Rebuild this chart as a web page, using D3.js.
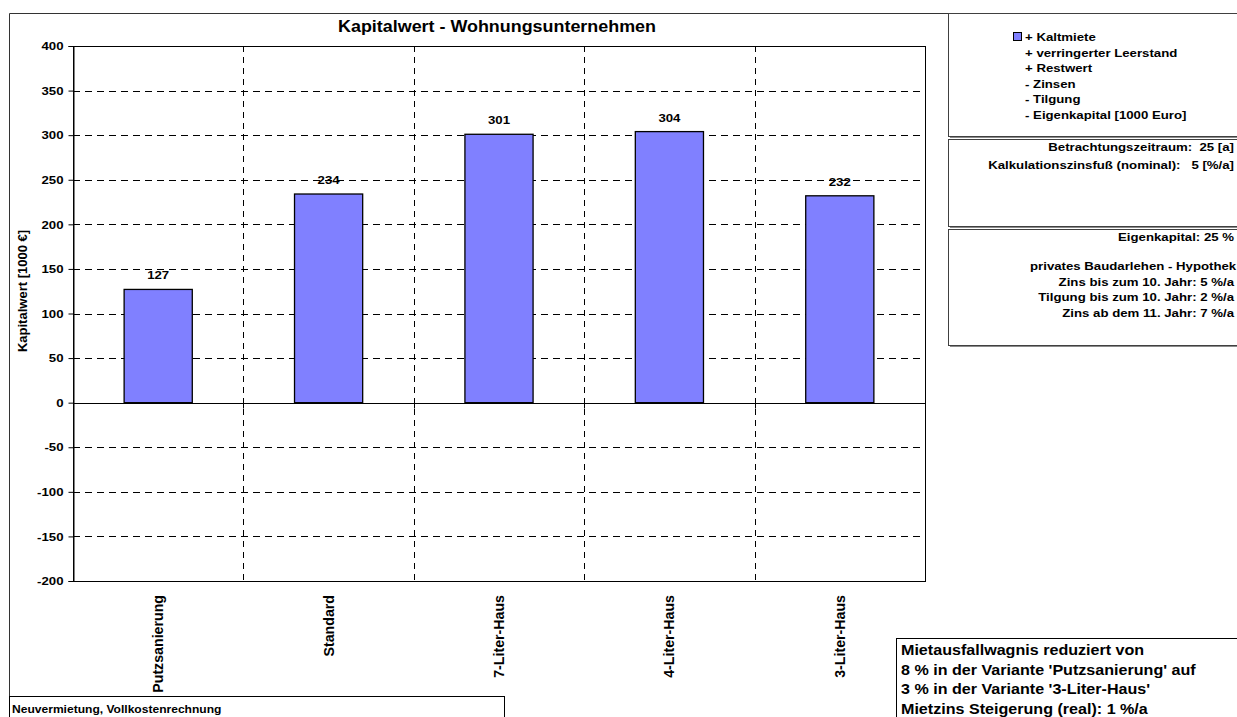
<!DOCTYPE html>
<html>
<head>
<meta charset="utf-8">
<script src="https://cdn.jsdelivr.net/npm/d3@7"></script>
<style>
  html, body { margin: 0; padding: 0; background: #fff; }
  svg { display: block; }
  text { font-family: "Liberation Sans", Arial, sans-serif; font-weight: bold; fill: #000; white-space: pre; }
</style>
</head>
<body>
<svg id="chart" width="1237" height="717"></svg>
<script>
// Kapitalwert je Variante [1000 €]
const categories = ["Putzsanierung", "Standard", "7-Liter-Haus", "4-Liter-Haus", "3-Liter-Haus"];
const kapitalwert = [127, 234, 301, 304, 232];
const yTicks = [-200, -150, -100, -50, 0, 50, 100, 150, 200, 250, 300, 350, 400];

const chartTitle = "Kapitalwert - Wohnungsunternehmen";
const yAxisTitle = "Kapitalwert [1000 €]";
const legendLines = ["+ Kaltmiete", "+ verringerter Leerstand", "+ Restwert", "- Zinsen", "- Tilgung", "- Eigenkapital [1000 Euro]"];
const periodLines = ["Betrachtungszeitraum:  25 [a]", "Kalkulationszinsfuß (nominal):   5 [%/a]"];
const equityLine = "Eigenkapital: 25 %";
const loanTitle = "privates Baudarlehen - Hypothek";
const loanLines = ["Zins bis zum 10. Jahr: 5 %/a", "Tilgung bis zum 10. Jahr: 2 %/a", "Zins ab dem 11. Jahr: 7 %/a"];
const vacancyLines = ["Mietausfallwagnis reduziert von", "8 % in der Variante 'Putzsanierung' auf", "3 % in der Variante '3-Liter-Haus'", "Mietzins Steigerung (real): 1 %/a"];
const footerText = "Neuvermietung, Vollkostenrechnung";

const svg = d3.select("#chart");
const plot = { left: 73, right: 925, top: 46, bottom: 581 };
const SX = 1.15; // horizontal widening of the lettering

const x = d3.scaleBand().domain(categories).range([plot.left, plot.right]).padding(0);
const y = d3.scaleLinear().domain([-200, 400]).range([plot.bottom, plot.top]);

function label(parent, px, py, str, size, anchor = "start", rot = 0, sx = SX) {
  return parent.append("text")
    .attr("xml:space", "preserve")
    .attr("transform", `translate(${px},${py}) rotate(${rot}) scale(${sx},1)`)
    .attr("text-anchor", anchor)
    .style("font-size", size + "px")
    .text(str);
}

// outer chart frame
svg.append("path")
  .attr("d", "M9.5,700 V13.5 H1237")
  .attr("fill", "none").attr("stroke", "#333").attr("stroke-width", 1);

// title
label(svg, 497, 32, chartTitle, 16, "middle", 0, 1.12);

// horizontal grid lines
const gridY = yTicks.filter(v => v !== -200 && v !== 400 && v !== 0);
svg.append("g").selectAll("line").data(gridY).join("line")
  .attr("x1", plot.left).attr("x2", plot.right)
  .attr("y1", d => Math.round(y(d)) + 0.5).attr("y2", d => Math.round(y(d)) + 0.5)
  .attr("stroke", "#000").attr("stroke-width", 1).attr("stroke-dasharray", "7,5");

// vertical grid lines between categories
const bounds = categories.slice(1).map(c => x(c));
svg.append("g").selectAll("line").data(bounds).join("line")
  .attr("x1", d => Math.round(d) + 0.5).attr("x2", d => Math.round(d) + 0.5)
  .attr("y1", plot.top).attr("y2", plot.bottom)
  .attr("stroke", "#000").attr("stroke-width", 1).attr("stroke-dasharray", "6,5");

// plot border
svg.append("rect")
  .attr("x", plot.left + 0.5).attr("y", plot.top + 0.5)
  .attr("width", plot.right - plot.left).attr("height", plot.bottom - plot.top)
  .attr("fill", "none").attr("stroke", "#000").attr("stroke-width", 1);

// bars
const barW = x.bandwidth() * 0.4;
svg.append("g").selectAll("rect").data(kapitalwert).join("rect")
  .attr("x", (d, i) => x(categories[i]) + (x.bandwidth() - barW) / 2)
  .attr("y", d => y(Math.max(0, d)))
  .attr("width", barW)
  .attr("height", d => Math.abs(y(d) - y(0)))
  .attr("fill", "#8080FF").attr("stroke", "#000").attr("stroke-width", 1.3);

// value labels
const vl = svg.append("g");
kapitalwert.forEach((d, i) => {
  label(vl, x(categories[i]) + x.bandwidth() / 2, y(d) - 10, String(d), 11.5, "middle");
});

// zero line with category ticks
const y0 = Math.round(y(0)) + 0.5;
svg.append("line").attr("x1", plot.left).attr("x2", plot.right)
  .attr("y1", y0).attr("y2", y0).attr("stroke", "#000").attr("stroke-width", 1);
svg.append("g").selectAll("line").data(bounds).join("line")
  .attr("x1", d => Math.round(d) + 0.5).attr("x2", d => Math.round(d) + 0.5)
  .attr("y1", y0).attr("y2", y0 + 5).attr("stroke", "#000");

// y axis
const yAxis = d3.axisLeft(y).tickValues(yTicks).tickSize(5).tickPadding(5).tickFormat(d => String(d));
const ya = svg.append("g").attr("transform", `translate(${plot.left + 0.5},0)`).call(yAxis);
ya.select(".domain").attr("stroke", "#000");
ya.selectAll(".tick line").attr("stroke", "#000");
ya.selectAll(".tick text")
  .style("font-size", "11.5px")
  .attr("font-family", null)
  .attr("x", null).attr("dy", null)
  .attr("transform", `translate(-10,0) scale(${SX},1)`)
  .attr("dominant-baseline", "central");

// y axis title
label(svg, 27, 291, yAxisTitle, 13, "middle", -90, 1);

// category labels
const cl = svg.append("g");
categories.forEach(c => {
  label(cl, x(c) + x.bandwidth() / 2 + 5, 595, c, 14.2, "end", -90, 1);
});

// framed text boxes with a shadow
function box(bx, by, bw, bh) {
  svg.append("rect").attr("x", bx + 2).attr("y", by + 2).attr("width", bw).attr("height", bh)
    .attr("fill", "#8a8a8a");
  svg.append("rect").attr("x", bx + 0.5).attr("y", by + 0.5).attr("width", bw).attr("height", bh)
    .attr("fill", "#fff").attr("stroke", "#404040").attr("stroke-width", 1);
}

// legend
box(948, 13, 320, 123);
svg.append("rect").attr("x", 1013.5).attr("y", 32.5).attr("width", 8).attr("height", 8)
  .attr("fill", "#8080FF").attr("stroke", "#000").attr("stroke-width", 1);
legendLines.forEach((t, i) => label(svg, 1025, 41 + i * 15.6, t, 11.5, "start"));

// calculation period box
box(948, 139, 320, 87);
periodLines.forEach((t, i) => label(svg, 1234, 151 + i * 18, t, 11.5, "end"));

// financing box
box(948, 229, 320, 116);
label(svg, 1234, 241, equityLine, 11.5, "end");
label(svg, 1030, 270, loanTitle, 11.5, "start");
loanLines.forEach((t, i) => label(svg, 1234, 286 + i * 15.3, t, 11.5, "end"));

// vacancy note
svg.append("rect").attr("x", 896.5).attr("y", 638.5).attr("width", 360).attr("height", 100)
  .attr("fill", "#fff").attr("stroke", "#000").attr("stroke-width", 1);
vacancyLines.forEach((t, i) => label(svg, 901, 655 + i * 19.6, t, 14, "start"));

// footer note
svg.append("rect").attr("x", 9.5).attr("y", 696.5).attr("width", 495).attr("height", 40)
  .attr("fill", "#fff").attr("stroke", "#000").attr("stroke-width", 1);
label(svg, 12, 713, footerText, 10.5, "start");
</script>
</body>
</html>
